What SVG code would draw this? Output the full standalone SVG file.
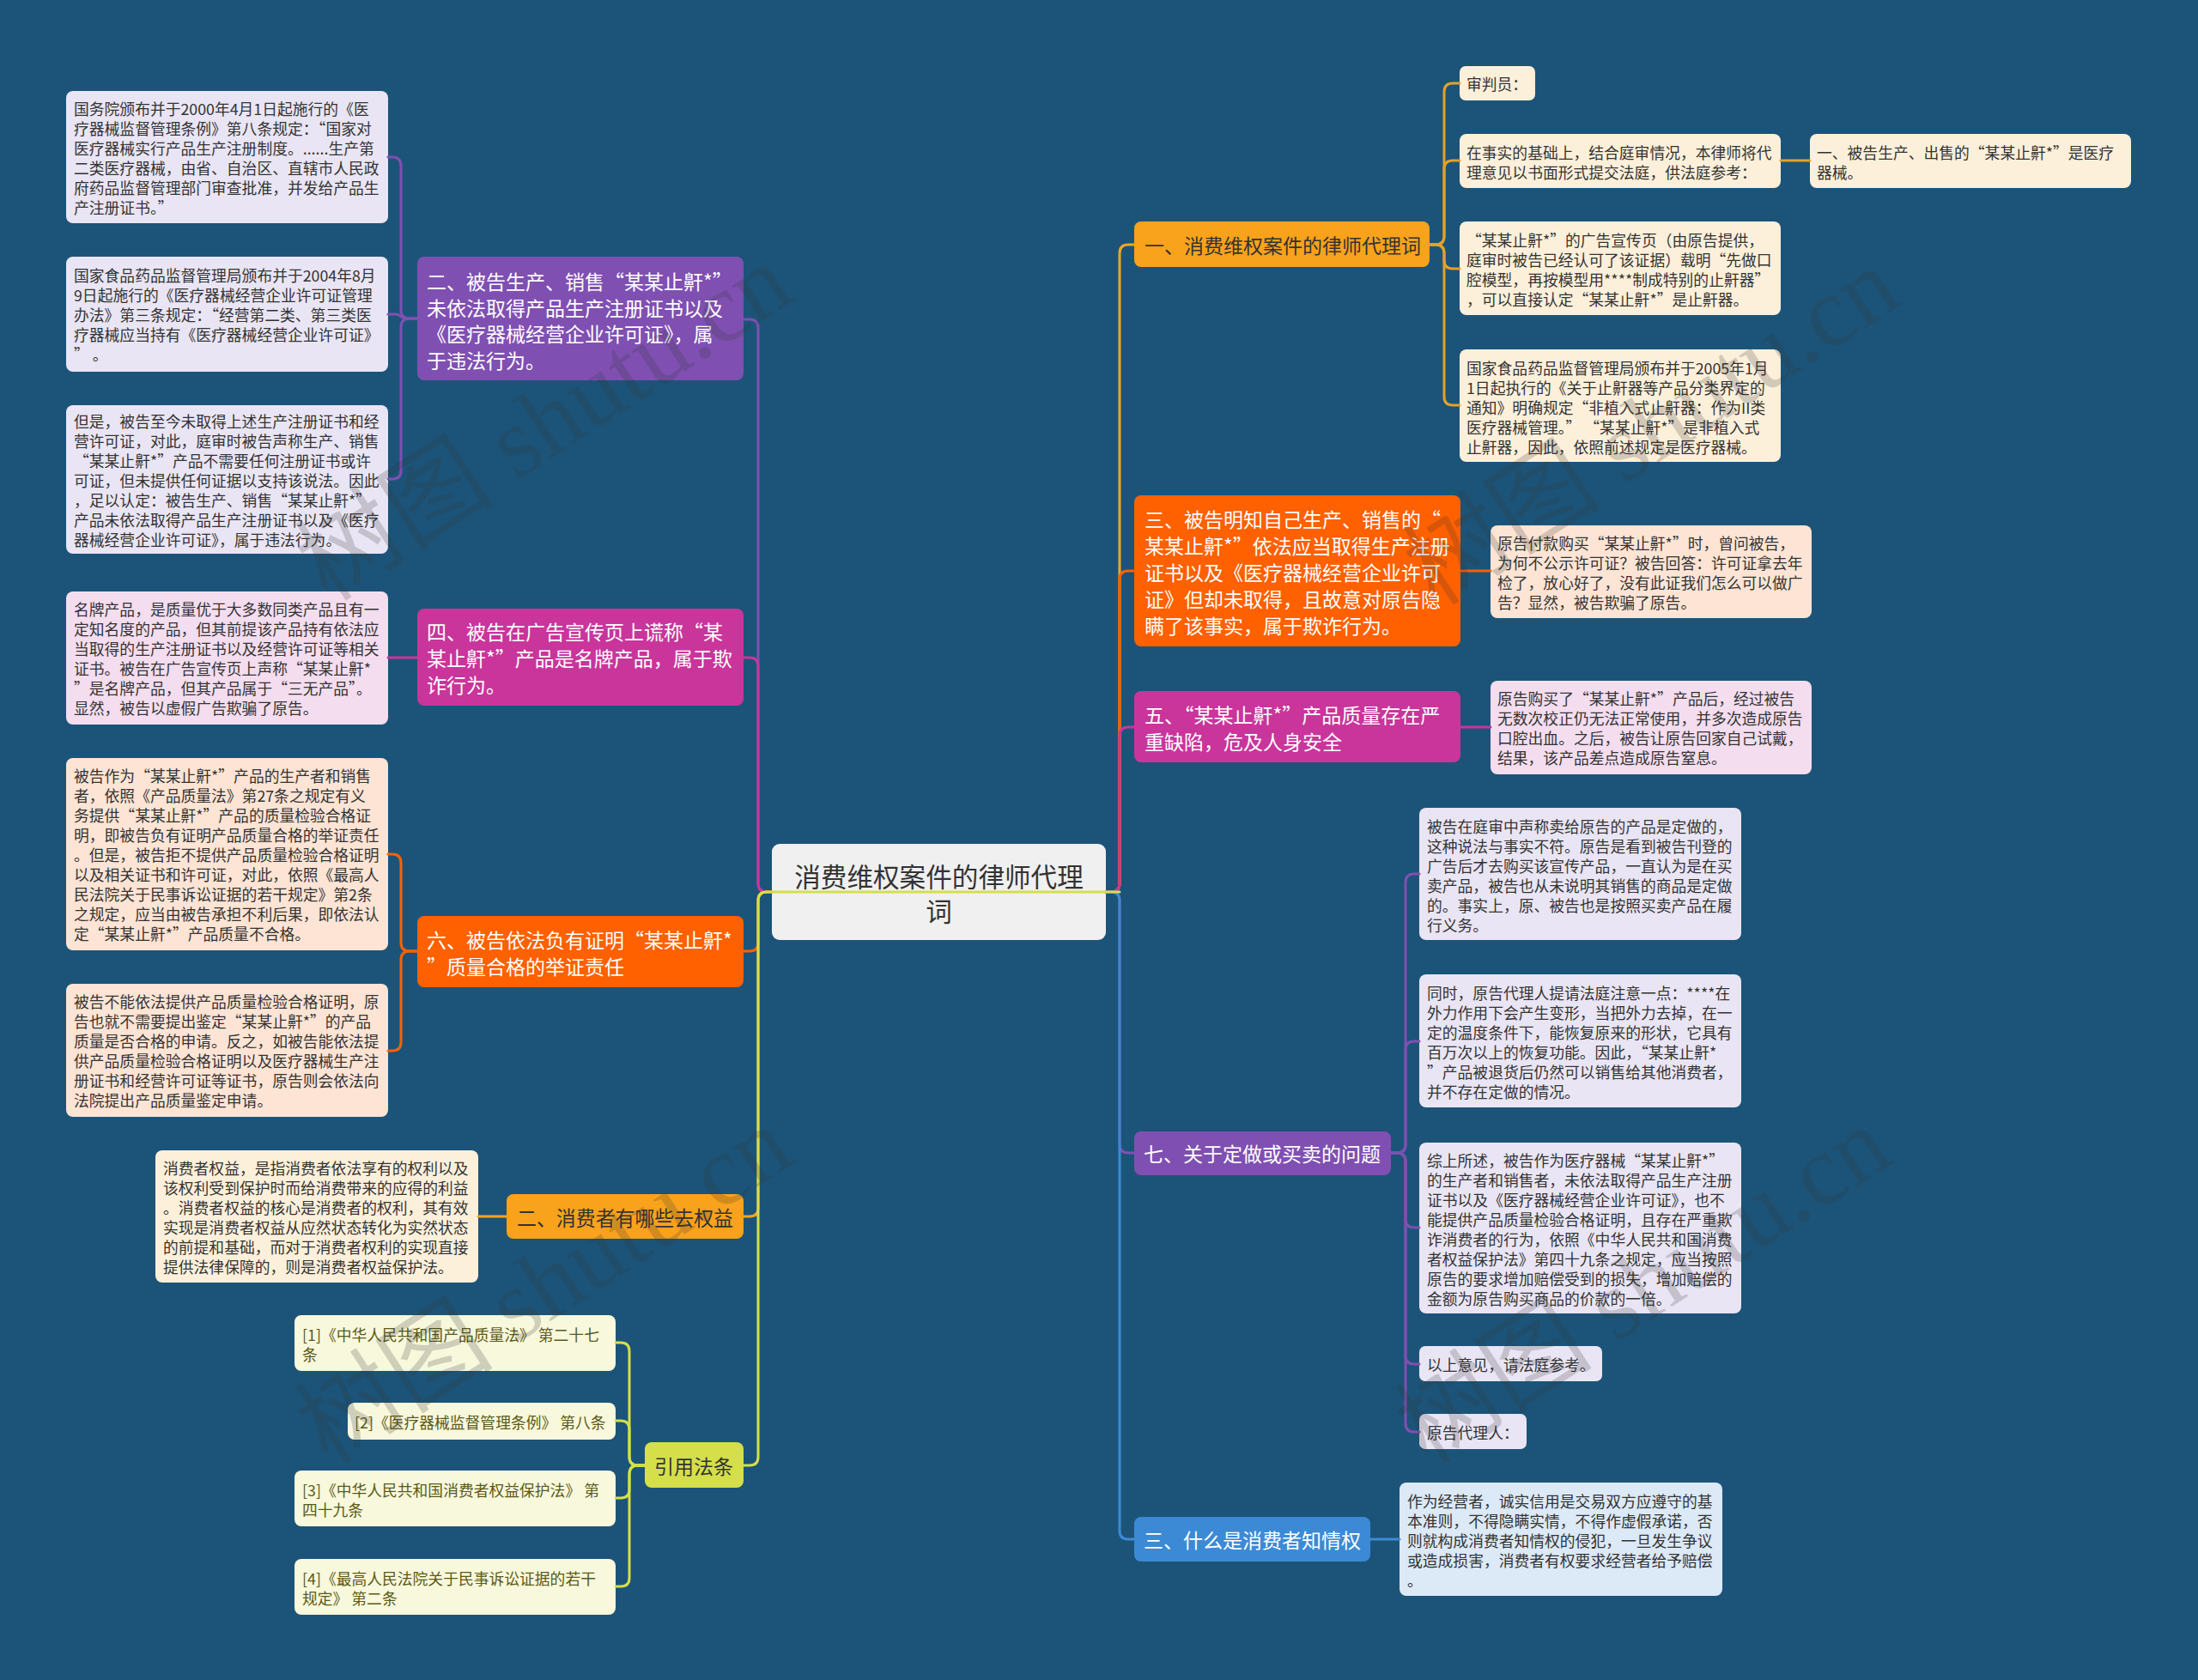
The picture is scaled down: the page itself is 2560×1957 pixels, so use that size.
<svg xmlns="http://www.w3.org/2000/svg" width="2560" height="1957" viewBox="0 0 2560 1957">
<style>
text { font-family: "Noto Sans CJK SC", "Noto Sans", sans-serif; dominant-baseline: central; }
.tl { font-size: 17.8px; fill: #333; }
.tc { font-size: 17.8px; fill: #5b5a17; }
.tb { font-size: 23px; fill: #fff; }
.tbd { font-size: 23px; fill: #333; }
.tr { font-size: 30.6px; fill: #333; text-anchor: middle; }
.c { fill: none; stroke-width: 3; stroke-linecap: round; stroke-linejoin: round; }
.pu { fill: #7f50b2; } .mg { fill: #c9359b; } .or { fill: #ff6000; } .ye { fill: #f9a21b; } .yg { fill: #d5df4a; } .bl { fill: #3c8ad5; }
.lpu { fill: #e9e5f4; } .lmg { fill: #f4ddef; } .lor { fill: #fde4d4; } .lye { fill: #fdf0da; } .lyg { fill: #f8f8dc; } .lbl { fill: #dce9f6; }
.spu { stroke: #7f50b2; } .smg { stroke: #c9359b; } .sor { stroke: #ff6000; } .sye { stroke: #f5a623; } .syg { stroke: #d5df4a; } .sbl { stroke: #3c8ad5; } .sgo { stroke: #e2a12a; }
.wm { font-family: "Liberation Serif", "Noto Sans CJK SC", serif; font-size: 116px; fill: #333; opacity: 0.2; dominant-baseline: auto; }
</style>
<rect width="2560" height="1957" fill="#1c5479"/>

<g id="nodes">
<g id="root">
<rect x="899" y="983" width="389" height="112" rx="9" fill="#f0f0f0"/>
<text class="tr"><tspan x="1093.5" y="1020">消费维权案件的律师代理</tspan><tspan x="1093.5" y="1060">词</tspan></text>
</g>

<!-- left branch 二 -->
<g id="b-left-2">
<rect class="pu" x="486" y="299" width="380" height="144" rx="8"/>
<text class="tb"><tspan x="497" y="327">二、被告生产、销售“某某止鼾*”</tspan><tspan x="497" y="357.5">未依法取得产品生产注册证书以及</tspan><tspan x="497" y="388">《医疗器械经营企业许可证》，属</tspan><tspan x="497" y="418.5">于违法行为。</tspan></text>
</g>
<g id="leaf-l1">
<rect class="lpu" x="77" y="106" width="375" height="154" rx="8"/>
<text class="tl"><tspan x="86" y="126">国务院颁布并于2000年4月1日起施行的《医</tspan><tspan x="86" y="149">疗器械监督管理条例》第八条规定：“国家对</tspan><tspan x="86" y="172">医疗器械实行产品生产注册制度。......生产第</tspan><tspan x="86" y="195">二类医疗器械，由省、自治区、直辖市人民政</tspan><tspan x="86" y="218">府药品监督管理部门审查批准，并发给产品生</tspan><tspan x="86" y="241">产注册证书。”</tspan></text>
</g>
<g id="leaf-l2">
<rect class="lpu" x="77" y="299" width="375" height="134" rx="8"/>
<text class="tl"><tspan x="86" y="320">国家食品药品监督管理局颁布并于2004年8月</tspan><tspan x="86" y="343">9日起施行的《医疗器械经营企业许可证管理</tspan><tspan x="86" y="366">办法》第三条规定：“经营第二类、第三类医</tspan><tspan x="86" y="389">疗器械应当持有《医疗器械经营企业许可证》</tspan><tspan x="86" y="412">” 。</tspan></text>
</g>
<g id="leaf-l3">
<rect class="lpu" x="77" y="472" width="375" height="173" rx="8"/>
<text class="tl"><tspan x="86" y="490">但是，被告至今未取得上述生产注册证书和经</tspan><tspan x="86" y="513">营许可证，对此，庭审时被告声称生产、销售</tspan><tspan x="86" y="536">“某某止鼾*”产品不需要任何注册证书或许</tspan><tspan x="86" y="559">可证，但未提供任何证据以支持该说法。因此</tspan><tspan x="86" y="582">，足以认定：被告生产、销售“某某止鼾*”</tspan><tspan x="86" y="605">产品未依法取得产品生产注册证书以及《医疗</tspan><tspan x="86" y="628">器械经营企业许可证》，属于违法行为。</tspan></text>
</g>

<!-- left branch 四 -->
<g id="b-left-4">
<rect class="mg" x="486" y="709" width="380" height="113" rx="8"/>
<text class="tb"><tspan x="497" y="735">四、被告在广告宣传页上谎称“某</tspan><tspan x="497" y="766">某止鼾*”产品是名牌产品，属于欺</tspan><tspan x="497" y="797">诈行为。</tspan></text>
</g>
<g id="leaf-l4">
<rect class="lmg" x="77" y="689" width="375" height="155" rx="8"/>
<text class="tl"><tspan x="86" y="709">名牌产品，是质量优于大多数同类产品且有一</tspan><tspan x="86" y="732">定知名度的产品，但其前提该产品持有依法应</tspan><tspan x="86" y="755">当取得的生产注册证书以及经营许可证等相关</tspan><tspan x="86" y="778">证书。被告在广告宣传页上声称“某某止鼾*</tspan><tspan x="86" y="801">”是名牌产品，但其产品属于“三无产品”。</tspan><tspan x="86" y="824">显然，被告以虚假广告欺骗了原告。</tspan></text>
</g>

<!-- left branch 六 -->
<g id="b-left-6">
<rect class="or" x="486" y="1067" width="380" height="83" rx="8"/>
<text class="tb"><tspan x="497" y="1094">六、被告依法负有证明“某某止鼾*</tspan><tspan x="497" y="1124.5">”质量合格的举证责任</tspan></text>
</g>
<g id="leaf-l5">
<rect class="lor" x="77" y="883" width="375" height="224" rx="8"/>
<text class="tl"><tspan x="86" y="903">被告作为“某某止鼾*”产品的生产者和销售</tspan><tspan x="86" y="926">者，依照《产品质量法》第27条之规定有义</tspan><tspan x="86" y="949">务提供“某某止鼾*”产品的质量检验合格证</tspan><tspan x="86" y="972">明，即被告负有证明产品质量合格的举证责任</tspan><tspan x="86" y="995">。但是，被告拒不提供产品质量检验合格证明</tspan><tspan x="86" y="1018">以及相关证书和许可证，对此，依照《最高人</tspan><tspan x="86" y="1041">民法院关于民事诉讼证据的若干规定》第2条</tspan><tspan x="86" y="1064">之规定，应当由被告承担不利后果，即依法认</tspan><tspan x="86" y="1087">定“某某止鼾*”产品质量不合格。</tspan></text>
</g>
<g id="leaf-l6">
<rect class="lor" x="77" y="1146" width="375" height="155" rx="8"/>
<text class="tl"><tspan x="86" y="1166">被告不能依法提供产品质量检验合格证明，原</tspan><tspan x="86" y="1189">告也就不需要提出鉴定“某某止鼾*”的产品</tspan><tspan x="86" y="1212">质量是否合格的申请。反之，如被告能依法提</tspan><tspan x="86" y="1235">供产品质量检验合格证明以及医疗器械生产注</tspan><tspan x="86" y="1258">册证书和经营许可证等证书，原告则会依法向</tspan><tspan x="86" y="1281">法院提出产品质量鉴定申请。</tspan></text>
</g>

<!-- left branch 二 消费者 -->
<g id="b-left-rights">
<rect class="ye" x="590" y="1391" width="276" height="52" rx="8"/>
<text class="tbd" style="font-size:24px" x="602" y="1417" textLength="252" lengthAdjust="spacingAndGlyphs">二、消费者有哪些去权益</text>
</g>
<g id="leaf-l7">
<rect class="lye" x="181" y="1340" width="376" height="154" rx="8"/>
<text class="tl"><tspan x="190" y="1360">消费者权益，是指消费者依法享有的权利以及</tspan><tspan x="190" y="1383">该权利受到保护时而给消费带来的应得的利益</tspan><tspan x="190" y="1406">。消费者权益的核心是消费者的权利，其有效</tspan><tspan x="190" y="1429">实现是消费者权益从应然状态转化为实然状态</tspan><tspan x="190" y="1452">的前提和基础，而对于消费者权利的实现直接</tspan><tspan x="190" y="1475">提供法律保障的，则是消费者权益保护法。</tspan></text>
</g>

<!-- 引用法条 -->
<g id="b-left-cite">
<rect class="yg" x="751" y="1680" width="115" height="53" rx="8"/>
<text class="tbd" x="762" y="1707">引用法条</text>
</g>
<g id="cite-1">
<rect class="lyg" x="343" y="1532" width="374" height="65" rx="8"/>
<text class="tc"><tspan x="352" y="1554">[1]《中华人民共和国产品质量法》 第二十七</tspan><tspan x="352" y="1577">条</tspan></text>
</g>
<g id="cite-2">
<rect class="lyg" x="405" y="1634" width="312" height="43" rx="8"/>
<text class="tc" x="413" y="1655.5">[2]《医疗器械监督管理条例》 第八条</text>
</g>
<g id="cite-3">
<rect class="lyg" x="343" y="1713" width="374" height="65" rx="8"/>
<text class="tc"><tspan x="352" y="1735">[3]《中华人民共和国消费者权益保护法》 第</tspan><tspan x="352" y="1758">四十九条</tspan></text>
</g>
<g id="cite-4">
<rect class="lyg" x="343" y="1816" width="374" height="65" rx="8"/>
<text class="tc"><tspan x="352" y="1838">[4]《最高人民法院关于民事诉讼证据的若干</tspan><tspan x="352" y="1861">规定》 第二条</tspan></text>
</g>

<!-- right branch 一 -->
<g id="b-right-1">
<rect class="ye" x="1321" y="258" width="344" height="53" rx="8"/>
<text class="tbd" x="1333" y="285">一、消费维权案件的律师代理词</text>
</g>
<g id="leaf-r1a">
<rect class="lye" x="1700" y="77" width="88" height="40" rx="7"/>
<text class="tl" x="1708" y="97">审判员：</text>
</g>
<g id="leaf-r1b">
<rect class="lye" x="1700" y="156" width="374" height="63" rx="8"/>
<text class="tl"><tspan x="1708" y="177">在事实的基础上，结合庭审情况，本律师将代</tspan><tspan x="1708" y="200">理意见以书面形式提交法庭，供法庭参考：</tspan></text>
</g>
<g id="leaf-r1b1">
<rect class="lye" x="2108" y="156" width="374" height="63" rx="8"/>
<text class="tl"><tspan x="2116" y="177">一、被告生产、出售的“某某止鼾*”是医疗</tspan><tspan x="2116" y="200">器械。</tspan></text>
</g>
<g id="leaf-r1c">
<rect class="lye" x="1700" y="258" width="374" height="109" rx="8"/>
<text class="tl"><tspan x="1708" y="279">“某某止鼾*”的广告宣传页（由原告提供，</tspan><tspan x="1708" y="302">庭审时被告已经认可了该证据）载明“先做口</tspan><tspan x="1708" y="325">腔模型，再按模型用****制成特别的止鼾器”</tspan><tspan x="1708" y="348">，可以直接认定“某某止鼾*”是止鼾器。</tspan></text>
</g>
<g id="leaf-r1d">
<rect class="lye" x="1700" y="407" width="374" height="131" rx="8"/>
<text class="tl"><tspan x="1708" y="427.5">国家食品药品监督管理局颁布并于2005年1月</tspan><tspan x="1708" y="450.5">1日起执行的《关于止鼾器等产品分类界定的</tspan><tspan x="1708" y="473.5">通知》明确规定“非植入式止鼾器：作为II类</tspan><tspan x="1708" y="496.5">医疗器械管理。” “某某止鼾*”是非植入式</tspan><tspan x="1708" y="519.5">止鼾器，因此，依照前述规定是医疗器械。</tspan></text>
</g>

<!-- right branch 三 -->
<g id="b-right-3">
<rect class="or" x="1321" y="577" width="380" height="176" rx="8"/>
<text class="tb"><tspan x="1333" y="604">三、被告明知自己生产、销售的“</tspan><tspan x="1333" y="635">某某止鼾*”依法应当取得生产注册</tspan><tspan x="1333" y="666">证书以及《医疗器械经营企业许可</tspan><tspan x="1333" y="697">证》但却未取得，且故意对原告隐</tspan><tspan x="1333" y="728">瞒了该事实，属于欺诈行为。</tspan></text>
</g>
<g id="leaf-r3">
<rect class="lor" x="1736" y="612" width="374" height="108" rx="8"/>
<text class="tl"><tspan x="1744" y="632">原告付款购买“某某止鼾*”时，曾问被告，</tspan><tspan x="1744" y="655">为何不公示许可证？被告回答：许可证拿去年</tspan><tspan x="1744" y="678">检了，放心好了，没有此证我们怎么可以做广</tspan><tspan x="1744" y="701">告？显然，被告欺骗了原告。</tspan></text>
</g>

<!-- right branch 五 -->
<g id="b-right-5">
<rect class="mg" x="1321" y="805" width="380" height="83" rx="8"/>
<text class="tb"><tspan x="1333" y="832">五、“某某止鼾*”产品质量存在严</tspan><tspan x="1333" y="862.5">重缺陷，危及人身安全</tspan></text>
</g>
<g id="leaf-r5">
<rect class="lmg" x="1736" y="793" width="374" height="109" rx="8"/>
<text class="tl"><tspan x="1744" y="813">原告购买了“某某止鼾*”产品后，经过被告</tspan><tspan x="1744" y="836">无数次校正仍无法正常使用，并多次造成原告</tspan><tspan x="1744" y="859">口腔出血。之后，被告让原告回家自己试戴，</tspan><tspan x="1744" y="882">结果，该产品差点造成原告窒息。</tspan></text>
</g>

<!-- right branch 七 -->
<g id="b-right-7">
<rect class="pu" x="1321" y="1318" width="299" height="51" rx="8"/>
<text class="tb" x="1332" y="1343">七、关于定做或买卖的问题</text>
</g>
<g id="leaf-r7a">
<rect class="lpu" x="1653" y="941" width="375" height="154" rx="8"/>
<text class="tl"><tspan x="1662" y="962">被告在庭审中声称卖给原告的产品是定做的，</tspan><tspan x="1662" y="985">这种说法与事实不符。原告是看到被告刊登的</tspan><tspan x="1662" y="1008">广告后才去购买该宣传产品，一直认为是在买</tspan><tspan x="1662" y="1031">卖产品，被告也从未说明其销售的商品是定做</tspan><tspan x="1662" y="1054">的。事实上，原、被告也是按照买卖产品在履</tspan><tspan x="1662" y="1077">行义务。</tspan></text>
</g>
<g id="leaf-r7b">
<rect class="lpu" x="1653" y="1135" width="375" height="155" rx="8"/>
<text class="tl"><tspan x="1662" y="1156">同时，原告代理人提请法庭注意一点：****在</tspan><tspan x="1662" y="1179">外力作用下会产生变形，当把外力去掉，在一</tspan><tspan x="1662" y="1202">定的温度条件下，能恢复原来的形状，它具有</tspan><tspan x="1662" y="1225">百万次以上的恢复功能。因此，“某某止鼾*</tspan><tspan x="1662" y="1248">”产品被退货后仍然可以销售给其他消费者，</tspan><tspan x="1662" y="1271">并不存在定做的情况。</tspan></text>
</g>
<g id="leaf-r7c">
<rect class="lpu" x="1653" y="1331" width="375" height="199" rx="8"/>
<text class="tl"><tspan x="1662" y="1351">综上所述，被告作为医疗器械“某某止鼾*”</tspan><tspan x="1662" y="1374">的生产者和销售者，未依法取得产品生产注册</tspan><tspan x="1662" y="1397">证书以及《医疗器械经营企业许可证》，也不</tspan><tspan x="1662" y="1420">能提供产品质量检验合格证明，且存在严重欺</tspan><tspan x="1662" y="1443">诈消费者的行为，依照《中华人民共和国消费</tspan><tspan x="1662" y="1466">者权益保护法》第四十九条之规定，应当按照</tspan><tspan x="1662" y="1489">原告的要求增加赔偿受到的损失，增加赔偿的</tspan><tspan x="1662" y="1512">金额为原告购买商品的价款的一倍。</tspan></text>
</g>
<g id="leaf-r7d">
<rect class="lpu" x="1653" y="1568" width="213" height="41" rx="7"/>
<text class="tl" x="1662" y="1589">以上意见，请法庭参考。</text>
</g>
<g id="leaf-r7e">
<rect class="lpu" x="1653" y="1647" width="125" height="41" rx="7"/>
<text class="tl" x="1662" y="1668">原告代理人：</text>
</g>

<!-- right branch 三 知情权 -->
<g id="b-right-know">
<rect class="bl" x="1321" y="1767" width="275" height="52" rx="8"/>
<text class="tb" x="1332" y="1793">三、什么是消费者知情权</text>
</g>
<g id="leaf-rk">
<rect class="lbl" x="1630" y="1727" width="376" height="132" rx="8"/>
<text class="tl"><tspan x="1639" y="1748">作为经营者，诚实信用是交易双方应遵守的基</tspan><tspan x="1639" y="1771">本准则，不得隐瞒实情，不得作虚假承诺，否</tspan><tspan x="1639" y="1794">则就构成消费者知情权的侵犯，一旦发生争议</tspan><tspan x="1639" y="1817">或造成损害，消费者有权要求经营者给予赔偿</tspan><tspan x="1639" y="1840">。</tspan></text>
</g>
</g>

<g id="connectors">
<!-- root to left branches -->
<path class="c spu" d="M899 1039 H893 Q883 1039 883 1029 V382 Q883 372 873 372 H866"/>
<path class="c smg" d="M899 1039 H893 Q883 1039 883 1029 V776 Q883 766 873 766 H866"/>
<path class="c sor" d="M899 1039 H893 Q883 1039 883 1049 V1098 Q883 1108 873 1108 H866"/>
<path class="c sye" d="M899 1039 H893 Q883 1039 883 1049 V1407 Q883 1417 873 1417 H866"/>
<!-- root to right branches -->
<path class="c sye" d="M1288 1039 H1294 Q1304 1039 1304 1029 V295 Q1304 285 1314 285 H1321"/>
<path class="c sor" d="M1288 1039 H1294 Q1304 1039 1304 1029 V675 Q1304 665 1314 665 H1321"/>
<path class="c smg" d="M1288 1039 H1294 Q1304 1039 1304 1029 V857 Q1304 847 1314 847 H1321"/>
<path class="c spu" d="M1288 1039 H1294 Q1304 1039 1304 1049 V1333 Q1304 1343 1314 1343 H1321"/>
<path class="c sbl" d="M1288 1039 H1294 Q1304 1039 1304 1049 V1783 Q1304 1793 1314 1793 H1321"/>
<!-- yellow-green root line (drawn across root) -->
<path class="c syg" d="M1304 1039 H893 Q883 1039 883 1049 V1697 Q883 1707 873 1707 H866"/>

<!-- left leaves -->
<path class="c spu" d="M486 371 H477 Q467 371 467 361 V193 Q467 183 457 183 H452"/>
<path class="c spu" d="M486 371 H473 C467 371 467 366 461 366 H452"/>
<path class="c spu" d="M486 371 H477 Q467 371 467 381 V548 Q467 558 457 558 H452"/>
<path class="c smg" d="M486 766 H452"/>
<path class="c sor" d="M486 1108 H477 Q467 1108 467 1098 V1005 Q467 995 457 995 H452"/>
<path class="c sor" d="M486 1108 H477 Q467 1108 467 1118 V1214 Q467 1224 457 1224 H452"/>
<path class="c sye" d="M590 1417 H557"/>
<path class="c syg" d="M751 1707 H743 Q733 1707 733 1697 V1574 Q733 1564 723 1564 H717"/>
<path class="c syg" d="M751 1707 H743 Q733 1707 733 1697 V1665 Q733 1655 723 1655 H717"/>
<path class="c syg" d="M751 1707 H743 Q733 1707 733 1717 V1735 Q733 1745 723 1745 H717"/>
<path class="c syg" d="M751 1707 H743 Q733 1707 733 1717 V1838 Q733 1848 723 1848 H717"/>

<!-- right leaves -->
<path class="c sgo" d="M1665 285 H1672 Q1682 285 1682 275 V107 Q1682 97 1692 97 H1700"/>
<path class="c sgo" d="M1665 285 H1672 Q1682 285 1682 275 V197 Q1682 187 1692 187 H1700"/>
<path class="c sgo" d="M1665 285 H1672 Q1682 285 1682 295 V303 Q1682 313 1692 313 H1700"/>
<path class="c sgo" d="M1665 285 H1672 Q1682 285 1682 295 V462 Q1682 472 1692 472 H1700"/>
<path class="c sgo" d="M2074 187 H2108"/>
<path class="c sor" d="M1701 665 H1736"/>
<path class="c smg" d="M1701 847 H1736"/>
<path class="c spu" d="M1620 1343 H1627 Q1637 1343 1637 1333 V1028 Q1637 1018 1647 1018 H1653"/>
<path class="c spu" d="M1620 1343 H1627 Q1637 1343 1637 1333 V1223 Q1637 1213 1647 1213 H1653"/>
<path class="c spu" d="M1620 1343 H1627 Q1637 1343 1637 1353 V1420 Q1637 1430 1647 1430 H1653"/>
<path class="c spu" d="M1620 1343 H1627 Q1637 1343 1637 1353 V1579 Q1637 1589 1647 1589 H1653"/>
<path class="c spu" d="M1620 1343 H1627 Q1637 1343 1637 1353 V1658 Q1637 1668 1647 1668 H1653"/>
<path class="c sbl" d="M1596 1793 H1630"/>
</g>

<g id="watermarks">
<text class="wm" text-anchor="middle" transform="translate(655 525) rotate(-33)">树图 shutu.cn</text>
<text class="wm" text-anchor="middle" transform="translate(1945 530) rotate(-33)">树图 shutu.cn</text>
<text class="wm" text-anchor="middle" transform="translate(655 1530) rotate(-33)">树图 shutu.cn</text>
<text class="wm" text-anchor="middle" transform="translate(1935 1530) rotate(-33)">树图 shutu.cn</text>
</g>
</svg>
